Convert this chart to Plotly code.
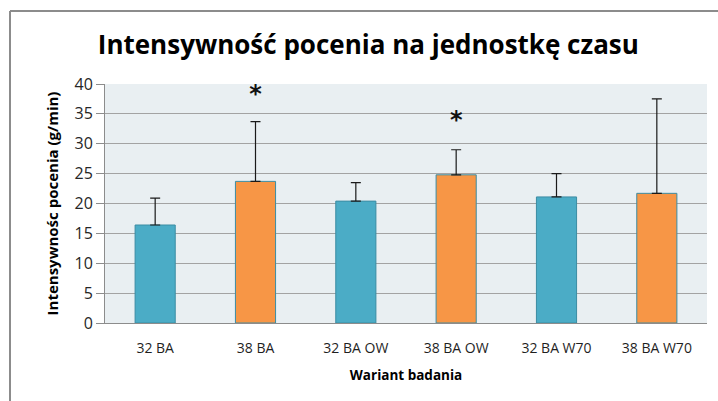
import plotly.graph_objects as go

categories = ["32 BA", "38 BA", "32 BA OW", "38 BA OW", "32 BA W70", "38 BA W70"]
values = [16.4, 23.7, 20.4, 24.8, 21.1, 21.7]
errors_plus = [4.5, 10.0, 3.1, 4.2, 3.9, 15.8]
bar_colors = ["#4BACC6", "#F79646", "#4BACC6", "#F79646", "#4BACC6", "#F79646"]
border_colors = ["#3B8CA3", "#3B8CA3", "#3B8CA3", "#3B8CA3", "#3B8CA3", "#3B8CA3"]
significant = ["", "*", "", "*", "", ""]
star_levels = [0, 38.0, 0, 33.6, 0, 0]

W, H = 718, 401
L, R, T, B = 105, 11, 84, 78

fig = go.Figure()
fig.add_trace(go.Bar(
    x=categories, y=values,
    marker=dict(color=bar_colors, line=dict(color=border_colors, width=1)),
    width=0.4,
    error_y=dict(type="data", symmetric=False, array=errors_plus,
                 arrayminus=[0] * len(values), color="#1a1a1a",
                 thickness=1.2, width=5),
    showlegend=False,
))
star_x = [c for c, s in zip(categories, significant) if s]
star_y = [v for v, s in zip(star_levels, significant) if s]
star_t = ["<b>" + s + "</b>" for s in significant if s]
fig.add_trace(go.Scatter(
    x=star_x, y=star_y, text=star_t, mode="text",
    textfont=dict(family="DejaVu Sans", size=24, color="#111111"),
    showlegend=False, hoverinfo="skip",
))

pw = W - L - R
ph = H - T - B
def px_x(p):
    return (p - L) / pw
def px_y(p):
    return (H - B - p) / ph

fig.update_layout(
    width=W, height=H,
    margin=dict(l=L, r=R, t=T, b=B),
    paper_bgcolor="white",
    plot_bgcolor="#E9EFF2",
    title=dict(text="<b>Intensywność pocenia na jednostkę czasu</b>",
               x=0.513, xanchor="center", y=1 - 45 / H, yanchor="middle",
               font=dict(family="Open Sans", size=26, color="#000000")),
    bargap=0.6,
    shapes=[
        dict(type="line", xref="paper", yref="paper",
             x0=px_x(10), x1=px_x(10), y0=px_y(11), y1=px_y(H + 5),
             line=dict(color="#8C8C8C", width=2)),
        dict(type="line", xref="paper", yref="paper",
             x0=px_x(10), x1=px_x(W + 5), y0=px_y(11), y1=px_y(11),
             line=dict(color="#8C8C8C", width=2)),
    ],
)
fig.update_xaxes(
    type="category",
    showline=True, linecolor="#8C8C8C", linewidth=1,
    showgrid=False, ticks="", ticklabelstandoff=12,
    tickfont=dict(family="Open Sans", size=14, color="#1f1f1f"),
    title=dict(text="<b>Wariant badania</b>", standoff=14,
               font=dict(family="Open Sans", size=13.5, color="#000000")),
)
fig.update_yaxes(
    range=[0, 40], dtick=5,
    showline=True, linecolor="#8C8C8C", linewidth=1,
    showgrid=True, gridcolor="#A3A3A3", gridwidth=1,
    ticks="outside", ticklen=8, tickcolor="#8C8C8C",
    tickfont=dict(family="Open Sans", size=16, color="#262626"),
    zeroline=False,
    title=dict(text="<b>Intensywnośc pocenia (g/min)</b>", standoff=12,
               font=dict(family="Open Sans", size=15, color="#000000")),
)

fig.write_html("out.html", config={"displayModeBar": False},
               post_script="document.body.style.margin='0';")
